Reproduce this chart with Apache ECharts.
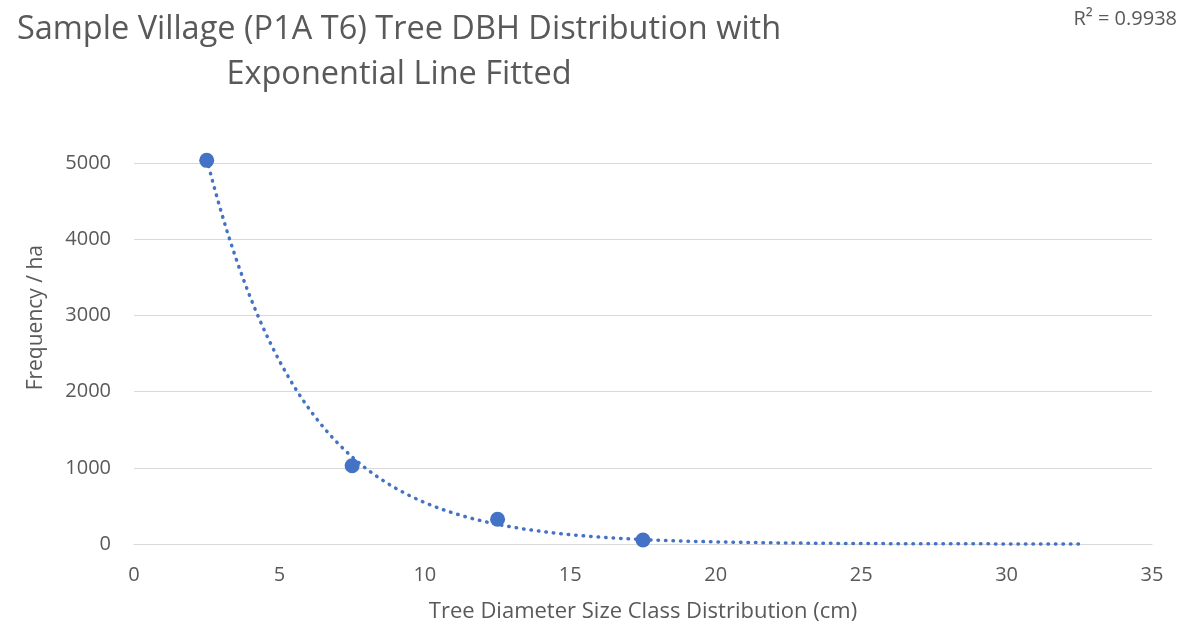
<!DOCTYPE html>
<html><head><meta charset="utf-8">
<script src="https://cdn.jsdelivr.net/npm/echarts@6/dist/echarts.min.js"></script>
<style>html,body{margin:0;padding:0;background:#fff}#c{width:1188px;height:627px}</style>
</head><body><div id="c"></div>
<script>
const sizeClass = [2.5, 7.5, 12.5, 17.5];
const frequency = [5035, 1026, 324, 52];
const xTicks = [0, 5, 10, 15, 20, 25, 30, 35];
const yTicks = [0, 1000, 2000, 3000, 4000, 5000];
const trendForward = 15;
const r2Label = 'R² = 0.9938';
const titleLines = ['Sample Village (P1A T6) Tree DBH Distribution with', 'Exponential Line Fitted'];
const xName = 'Tree Diameter Size Class Distribution (cm)';
const yName = 'Frequency / ha';

// Exponential least-squares fit (as Excel's trendline) from the data
const n = sizeClass.length;
const ly = frequency.map(v => Math.log(v));
const mx = sizeClass.reduce((a,b)=>a+b,0)/n;
const my = ly.reduce((a,b)=>a+b,0)/n;
let sxy = 0, sxx = 0;
for (let i=0;i<n;i++){ sxy += (sizeClass[i]-mx)*(ly[i]-my); sxx += (sizeClass[i]-mx)**2; }
const b = sxy/sxx, lnA = my - b*mx;
const x0 = sizeClass[0], x1 = sizeClass[n-1] + trendForward;
const trend = [];
for (let k=0;k<=300;k++){ const x = x0 + (x1-x0)*k/300; trend.push([x, Math.exp(lnA + b*x)]); }

const FONT = "'Open Sans', sans-serif";
const GREY = '#595959';
const chart = echarts.init(document.getElementById('c'));
chart.setOption({
  animation: false,
  textStyle: { fontFamily: FONT },
  title: [{
    text: titleLines.join('\n'), left: 394, top: 2, textAlign: 'center',
    textStyle: { fontFamily: FONT, fontSize: 32.5, fontWeight: 'normal', color: GREY, lineHeight: 45, align: 'center' }
  }],
  graphic: [
    { type: 'text', right: 11, top: 9, style: { text: r2Label, font: "20px 'Open Sans', sans-serif", fill: GREY } },
    { type: 'text', left: 26, top: 245, rotation: Math.PI/2, originX: 0, originY: 0,
      style: { text: yName, font: "21px 'Open Sans', sans-serif", fill: GREY } }
  ],
  grid: { left: 134, right: 36, top: 163, bottom: 83, containLabel: false, outerBoundsMode: 'none' },
  xAxis: {
    type: 'value', min: 0, max: 35, interval: 5,
    name: xName, nameLocation: 'middle', nameGap: 57,
    nameTextStyle: { fontSize: 22, color: GREY },
    axisLine: { show: true, lineStyle: { color: '#d9d9d9' } }, axisTick: { show: false },
    axisLabel: { fontSize: 20, color: GREY, margin: 21 },
    splitLine: { show: false }
  },
  yAxis: {
    type: 'value', min: 0, max: 5000, interval: 1000,
    axisLine: { show: false }, axisTick: { show: false },
    axisLabel: { fontSize: 20, color: GREY, margin: 23, formatter: v => String(v) },
    splitLine: { show: true, lineStyle: { color: '#d9d9d9', width: 1 } }
  },
  series: [
    { type: 'line', data: trend, showSymbol: false, symbol: 'none', smooth: false, z: 2, clip: false,
      lineStyle: { color: '#4472C4', width: 3.5, type: [0.5, 7], cap: 'round' } },
    { type: 'scatter', data: sizeClass.map((x,i)=>[x, frequency[i]]), symbol: 'circle', symbolSize: 15, z: 3, clip: false,
      itemStyle: { color: '#4472C4', opacity: 1 } }
  ]
});
</script></body></html>
